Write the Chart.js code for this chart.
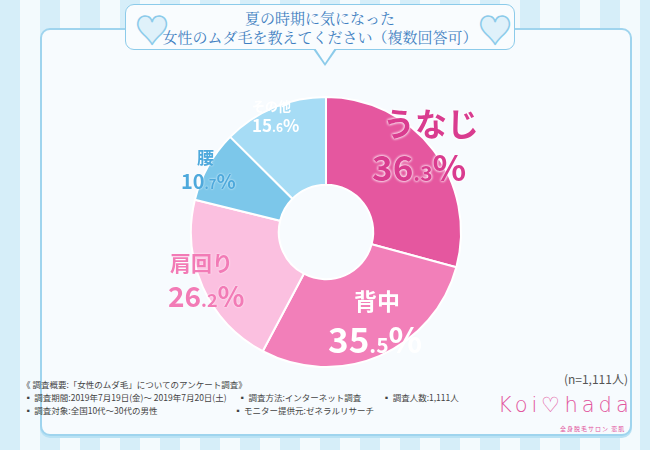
<!DOCTYPE html>
<html><head><meta charset="utf-8">
<script src="https://cdn.jsdelivr.net/npm/chart.js@4"></script>
<style>
*{box-sizing:border-box}
body{margin:0;width:650px;height:450px;overflow:hidden;font-family:"Noto Sans CJK JP",sans-serif;
background:repeating-linear-gradient(90deg,#d6eef9 0 20px,#f3fafd 20px 40px);position:relative}
#panel{position:absolute;left:40px;top:28px;width:592px;height:408px;background:#f7fbfe;border:2px solid #9fd4ee;border-radius:10px;box-shadow:0 2px 0 #b9e2f4}
#title{position:absolute;left:125px;top:4px;width:390px;height:46px;background:#f9fcfe;border:1.5px solid #8ccbea;border-radius:9px;
text-align:center;color:#3f7fc1;font-family:"Noto Serif CJK JP","Noto Sans CJK JP",serif;font-size:15px;line-height:19px;padding-top:3px}
#tri{position:absolute;left:313px;top:49px;width:0;height:0;border-left:12px solid transparent;border-right:12px solid transparent;border-top:17px solid #8ccbea}
#tri2{position:absolute;left:315px;top:48px;width:0;height:0;border-left:10px solid transparent;border-right:10px solid transparent;border-top:15px solid #f9fcfe}
.heart{position:absolute;top:12px;font-size:34px;color:#dff1fa;-webkit-text-stroke:1.5px #8ccbea;line-height:34px}
#wrap{position:absolute;left:186px;top:92px;width:280px;height:280px}
.lb{position:absolute;font-weight:bold;line-height:1;text-align:left;font-family:"Noto Sans CJK JP"}
.w{color:#fff}
.n{font-size:12px;position:absolute;right:22px;top:370px;color:#555}
.foot{position:absolute;left:22px;top:378px;font-size:8.5px;color:#444;line-height:13px;white-space:pre}
#logo{position:absolute;left:498px;top:393px;color:#e2559d;font-family:"DejaVu Sans";font-size:21px;letter-spacing:4px;font-weight:200}
#logo2{position:absolute;left:560px;top:424px;color:#e2559d;font-size:6px;letter-spacing:1px}
</style></head><body>
<div id="panel"></div>
<div id="title">夏の時期に気になった<br>女性のムダ毛を教えてください（複数回答可）</div>
<div id="tri"></div><div id="tri2"></div>
<div class="heart" style="left:135px">♥</div>
<div class="heart" style="left:478px">♥</div>
<div id="wrap"><canvas id="c"></canvas></div>
<div class="lb" style="left:383px;top:106px;color:#d93c8f;font-size:32px;text-shadow:0 0 3px #fff,0 0 3px #fff">うなじ</div>
<div class="lb" style="left:372px;top:148px;color:#d93c8f;font-size:35px;text-shadow:0 0 3px #fff,0 0 3px #fff">36<span style="font-size:21px">.3</span>%</div>
<div class="lb w" style="left:354px;top:289px;font-size:23px">背中</div>
<div class="lb w" style="left:328px;top:320px;font-size:35px">35<span style="font-size:21px">.5</span>%</div>
<div class="lb" style="left:170px;top:252px;color:#f27bb6;font-size:21px;text-shadow:0 0 2px #fff">肩回り</div>
<div class="lb" style="left:168px;top:281px;color:#f27bb6;font-size:28px;text-shadow:0 0 2px #fff">26<span style="font-size:18px">.2</span>%</div>
<div class="lb" style="left:197px;top:148px;color:#4ea9dc;font-size:17px;text-shadow:0 0 2px #fff">腰</div>
<div class="lb" style="left:181px;top:171px;color:#4ea9dc;font-size:20px;text-shadow:0 0 2px #fff">10<span style="font-size:13px">.7</span>%</div>
<div class="lb w" style="left:252px;top:99px;font-size:13px">その他</div>
<div class="lb w" style="left:252px;top:116px;font-size:17px">15<span style="font-size:12px">.6</span>%</div>
<div class="n">(n=1,111人)</div>
<div class="foot">《 調査概要:「女性のムダ毛」についてのアンケート調査》
 ▪ 調査期間:2019年7月19日(金)～ 2019年7月20日(土)      ▪ 調査方法:インターネット調査           ▪ 調査人数:1,111人
 ▪ 調査対象:全国10代～30代の男性                                        ▪ モニター提供元:ゼネラルリサーチ</div>
<div id="logo">Koi♡hada</div>
<div id="logo2">全身脱毛サロン 恋肌</div>
<script>
const labels = ['うなじ', '背中', '肩回り', '腰', 'その他'];
const values = [36.3, 35.5, 26.2, 10.7, 15.6];
const colors = ['#e5579f', '#f27fb9', '#fbc0e0', '#7cc7ea', '#a6dcf5'];

new Chart(document.getElementById('c'), {
    type: 'doughnut',
    data: {
        labels: labels,
        datasets: [{
            data: values,
            backgroundColor: colors,
            borderColor: '#ffffff',
            borderWidth: 2
        }]
    },
    options: {
        responsive: true,
        maintainAspectRatio: false,
        animation: false,
        cutout: '35%',
        layout: { padding: 4 },
        plugins: {
            legend: { display: false },
            tooltip: { enabled: false }
        }
    }
});
</script>
</body></html>
